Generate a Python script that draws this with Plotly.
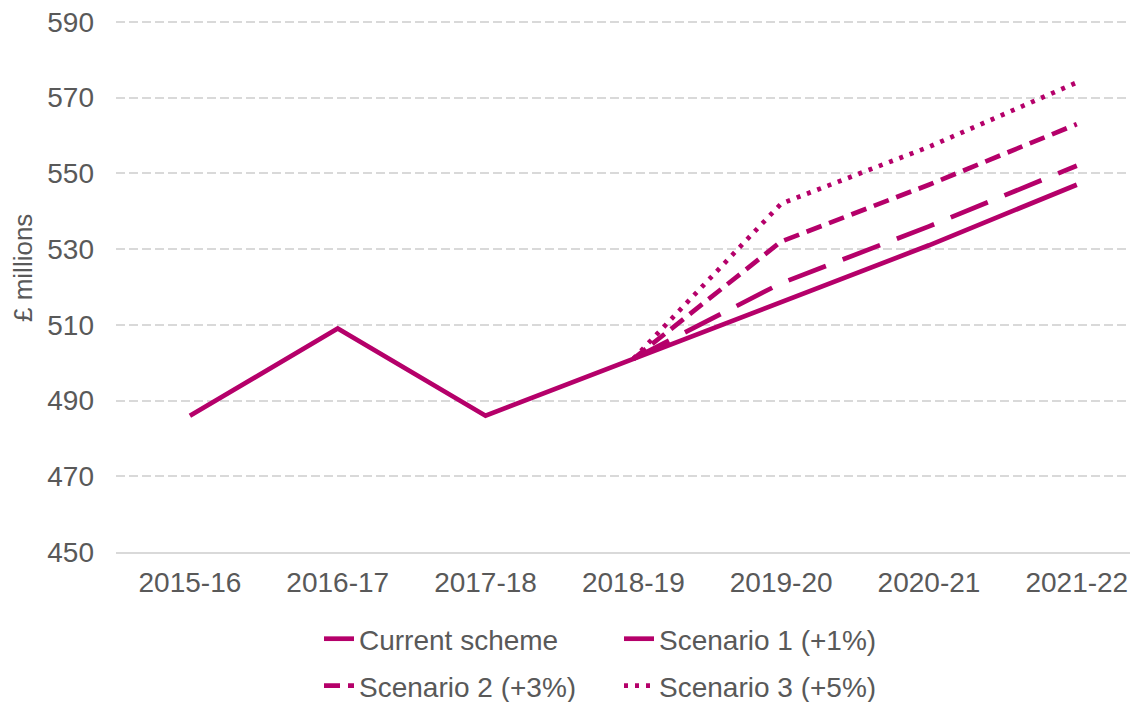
import plotly.graph_objects as go

years = ["2015-16", "2016-17", "2017-18", "2018-19", "2019-20", "2020-21", "2021-22"]
current = [486, 509, 486, 501, 516, 531, 547]
scen1_years = ["2018-19", "2019-20", "2020-21", "2021-22"]
scen1 = [501, 521, 536, 552]
scen2 = [501, 532, 547, 563]
scen3 = [501, 542, 557, 574]
yticks = [450, 470, 490, 510, 530, 550, 570, 590]

COLOR = "#B5006A"
GREY = "#595959"
FONT = "Liberation Sans, Arial, sans-serif"
FS = 28

fig = go.Figure()
fig.add_trace(go.Scatter(x=years, y=current, mode="lines", name="Current scheme",
                         line=dict(color=COLOR, width=4.7), legend="legend"))
fig.add_trace(go.Scatter(x=scen1_years, y=scen1, mode="lines", name="Scenario 1 (+1%)",
                         line=dict(color=COLOR, width=4.7, dash="40px,18px"), legend="legend"))
fig.add_trace(go.Scatter(x=scen1_years, y=scen2, mode="lines", name="Scenario 2 (+3%)",
                         line=dict(color=COLOR, width=4.7, dash="16px,8px"), legend="legend2"))
fig.add_trace(go.Scatter(x=scen1_years, y=scen3, mode="lines", name="Scenario 3 (+5%)",
                         line=dict(color=COLOR, width=4.7, dash="4px,7px"), legend="legend2"))

legend_common = dict(orientation="h", xref="container", yref="container",
                     xanchor="left", yanchor="middle", font=dict(family=FONT, size=FS, color=GREY),
                     entrywidth=255, bgcolor="rgba(0,0,0,0)", traceorder="normal")

fig.update_layout(
    width=1145, height=702,
    margin=dict(l=116, r=15, t=20, b=150),
    paper_bgcolor="white", plot_bgcolor="white",
    font=dict(family=FONT, size=FS, color=GREY),
    showlegend=True,
    legend=dict(x=319/1145, y=1 - 639/702, **legend_common),
    legend2=dict(x=319/1145, y=1 - 686/702, **legend_common),
    hovermode=False,
)
fig.update_xaxes(type="category", range=[-0.5, 6.36], showgrid=False,
                 showline=True, linecolor="#d9d9d9", linewidth=1.5,
                 ticks="", tickfont=dict(family=FONT, size=FS, color=GREY),
                 ticklabelstandoff=5, zeroline=False, automargin=False)
fig.update_yaxes(range=[450, 590.5], tickvals=yticks, showgrid=True,
                 gridcolor="#d9d9d9", gridwidth=1.5, griddash="9px,4px",
                 showline=False, zeroline=False, ticks="",
                 tickfont=dict(family=FONT, size=FS, color=GREY),
                 ticklabelstandoff=21, automargin=False)
fig.add_annotation(text="£ millions", textangle=-90, xref="paper", yref="paper",
                   x=(23 - 116) / 1014, y=(552 - 268) / 532, xanchor="center", yanchor="middle",
                   showarrow=False, font=dict(family=FONT, size=26, color=GREY))

fig.write_html("out.html", config={"displayModeBar": False},
               post_script="document.body.style.margin='0';")
